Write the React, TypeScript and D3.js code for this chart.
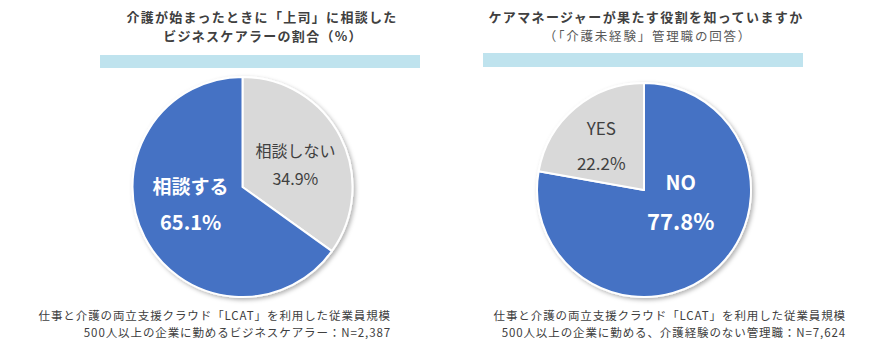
import { useMemo } from "react";
import * as d3 from "d3";

const W = 889;
const H = 358;
const FONT = "'Noto Sans CJK JP', 'Noto Sans', sans-serif";

// left chart data
const leftCategories = ["相談しない", "相談する"];
const leftValues = [34.9, 65.1];
// right chart data
const rightCategories = ["NO", "YES"];
const rightValues = [77.8, 22.2];

const BLUE = "#4472c4";
const GRAY = "#d9d9d9";
const TEXT = "#404040";
const BAR = "#bfe3ee";

type PieProps = {
  cx: number;
  cy: number;
  r: number;
  categories: string[];
  values: number[];
  colors: string[];
  labelStyle: { color: string; bold: boolean; size: number; pctSize: number; dx: number; dy: number; gap: number }[];
};

function Pie({ cx, cy, r, categories, values, colors, labelStyle }: PieProps) {
  const arcs = useMemo(() => {
    const gen = d3.pie<number>().value((d) => d).sort(null);
    return gen(values);
  }, [values]);
  const arc = d3.arc<d3.PieArcDatum<number>>().innerRadius(0).outerRadius(r);
  const labelArc = d3.arc<d3.PieArcDatum<number>>().innerRadius(r * 0.52).outerRadius(r * 0.52);

  return (
    <g transform={`translate(${cx},${cy})`}>
      <g filter="url(#shadow)">
        {arcs.map((a, i) => (
          <path key={i} d={arc(a) as string} fill={colors[i]} stroke="#fff" strokeWidth={2} strokeLinejoin="round" />
        ))}
      </g>
      {arcs.map((a, i) => {
        const [x, y] = labelArc.centroid(a);
        const s = labelStyle[i];
        return (
          <g key={"l" + i} fill={s.color} fontWeight={s.bold ? "bold" : "normal"} textAnchor="middle" fontFamily={FONT}>
            <text x={x + s.dx} y={y + s.dy - s.gap / 2} fontSize={s.size} dominantBaseline="central">
              {categories[i]}
            </text>
            <text x={x + s.dx} y={y + s.dy + s.gap / 2} fontSize={s.pctSize} dominantBaseline="central">
              {values[i].toFixed(1)}%
            </text>
          </g>
        );
      })}
    </g>
  );
}

export default function App() {
  return (
    <svg width={W} height={H} style={{ position: "absolute", left: 0, top: 0, background: "#fff" }} fontFamily={FONT}>
      <defs>
        <filter id="shadow" x="-20%" y="-20%" width="140%" height="140%">
          <feDropShadow dx="2" dy="2" stdDeviation="2" floodColor="#000" floodOpacity="0.3" />
        </filter>
      </defs>

      {/* left title */}
      <g fontSize={13} fontWeight="bold" fill={TEXT} textAnchor="middle" letterSpacing={1.3}>
        <text x={262} y={16} dominantBaseline="central">介護が始まったときに「上司」に相談した</text>
        <text x={263} y={35} dominantBaseline="central">ビジネスケアラーの割合（%）</text>
      </g>
      <rect x={100} y={55} width={320} height={13} fill={BAR} />

      {/* right title */}
      <text x={646} y={16.5} textAnchor="middle" fontSize={13} fontWeight="bold" fill={TEXT} letterSpacing={1.4} dominantBaseline="central">
        ケアマネージャーが果たす役割を知っていますか
      </text>
      <text x={648} y={35} textAnchor="middle" fontSize={12.5} fill="#595959" letterSpacing={1.8} dominantBaseline="central">
        （「介護未経験」管理職の回答）
      </text>
      <rect x={483} y={53} width={320} height={14} fill={BAR} />

      <Pie
        cx={242.5}
        cy={187}
        r={110}
        categories={leftCategories}
        values={leftValues}
        colors={[GRAY, BLUE]}
        labelStyle={[
          { color: TEXT, bold: false, size: 16, pctSize: 16, dx: 2, dy: 3, gap: 28 },
          { color: "#fff", bold: true, size: 19, pctSize: 20, dx: -1, dy: -10, gap: 36 },
        ]}
      />
      <Pie
        cx={644}
        cy={190}
        r={107}
        categories={rightCategories}
        values={rightValues}
        colors={[BLUE, GRAY]}
        labelStyle={[
          { color: "#fff", bold: true, size: 20, pctSize: 22, dx: 1, dy: -32, gap: 39 },
          { color: TEXT, bold: false, size: 17, pctSize: 17, dx: -7, dy: -2, gap: 35 },
        ]}
      />

      {/* footnotes */}
      <g fontSize={11.5} fill={TEXT} textAnchor="end" letterSpacing={0.9}>
        <text x={391} y={315} dominantBaseline="central">仕事と介護の両立支援クラウド「LCAT」を利用した従業員規模</text>
        <text x={391} y={332} dominantBaseline="central">500人以上の企業に勤めるビジネスケアラー：N=2,387</text>
        <text x={846} y={315} dominantBaseline="central">仕事と介護の両立支援クラウド「LCAT」を利用した従業員規模</text>
        <text x={846} y={332} dominantBaseline="central">500人以上の企業に勤める、介護経験のない管理職：N=7,624</text>
      </g>
    </svg>
  );
}
